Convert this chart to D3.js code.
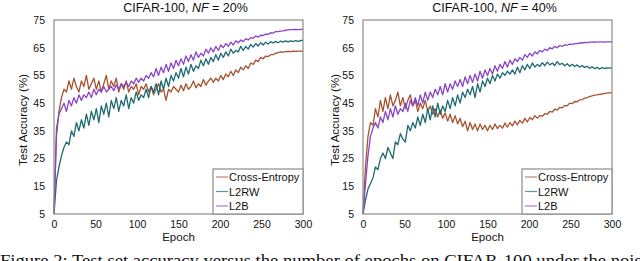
<!DOCTYPE html>
<html>
<head>
<meta charset="utf-8">
<script src="https://cdn.jsdelivr.net/npm/d3@7"></script>
<style>
  body { margin: 0; background: #fff; }
  svg { display: block; font-family: "Liberation Sans", Arial, sans-serif; }
</style>
</head>
<body>
<svg></svg>
<script>
// epochs sampled every 3
let epochs = [
  0, 3, 6, 9, 12, 15, 18, 21, 24, 27,
  30, 33, 36, 39, 42, 45, 48, 51, 54, 57,
  60, 63, 66, 69, 72, 75, 78, 81, 84, 87,
  90, 93, 96, 99, 102, 105, 108, 111, 114, 117,
  120, 123, 126, 129, 132, 135, 138, 141, 144, 147,
  150, 153, 156, 159, 162, 165, 168, 171, 174, 177,
  180, 183, 186, 189, 192, 195, 198, 201, 204, 207,
  210, 213, 216, 219, 222, 225, 228, 231, 234, 237,
  240, 243, 246, 249, 252, 255, 258, 261, 264, 267,
  270, 273, 276, 279, 282, 285, 288, 291, 294, 297,
  300
];

// NF = 20%
let ce20 = [
  6, 33, 42, 47, 50, 49, 53, 50, 54, 51,
  49, 53, 51, 55, 50, 52, 54, 50, 53, 49,
  52, 55, 50, 53, 51, 54, 49, 52, 50, 53,
  49, 51, 50, 52, 48, 51, 50, 52, 49, 51,
  48, 50, 52, 49, 50, 46, 50, 49, 51, 50,
  49, 51.5, 49.5, 52, 50, 51, 53, 50.5, 52, 51,
  53.5, 51.5, 53, 54, 52.5, 54, 53, 55, 53.5, 55.5,
  54.5, 56.5, 55, 57, 56, 58, 57, 58.5, 57.5, 59.5,
  59, 60.5, 60, 61.5, 61, 62, 61.8, 62.5, 62.5, 63,
  63.2, 63.5, 63.4, 63.6, 63.7, 63.6, 63.8, 63.7, 63.8, 63.8,
  63.7
];
let rw20 = [
  5, 17, 22, 26, 29, 31, 30, 35, 33, 38,
  35, 39, 36, 41, 37, 42, 39, 43, 38, 44,
  41, 45, 40, 46, 43, 47, 42, 46, 44, 48,
  43, 47, 45, 49, 46, 48, 47, 50, 47, 51,
  49, 52, 48, 53, 50, 54, 51, 55, 53, 56,
  54, 57.5, 54.5, 58, 55.5, 59, 56.5, 58.5, 57.5, 60.5,
  58.5, 61, 59, 61.5, 60, 62.5, 60.5, 63, 61.5, 63.5,
  62, 64.5, 63, 64, 63.5, 65.5, 64, 65.5, 64.5, 66.2,
  65.2, 66.5, 65.6, 66.8, 66, 67, 66.3, 67.2, 66.7, 67.3,
  66.8, 67.4, 67, 67.5, 67.1, 67.5, 67.2, 67.6, 67.3, 67.6,
  67.6
];
let b20 = [
  5, 36, 41, 43, 45, 42, 46, 44, 47, 45,
  48, 46, 48, 47, 49, 47, 50, 48, 50, 49,
  51, 49, 50, 51, 49.5, 51.5, 50, 52, 51, 52.5,
  51, 53, 52, 54, 52.5, 54, 53, 55, 54, 56,
  54.5, 57.5, 55, 58, 56, 59, 56.5, 59.5, 57.5, 60.5,
  58.5, 61, 59, 62, 60, 62.5, 60.5, 63.5, 61.5, 63,
  62, 64.5, 63, 65, 63.5, 65.5, 64, 66, 65, 66.5,
  65.5, 67, 66, 67.5, 66.8, 67.8, 67.2, 68.3, 67.8, 68.6,
  68.4, 69.2, 68.8, 69.5, 69.4, 69.9, 69.8, 70.4, 70.3, 70.8,
  70.8, 71, 71.1, 71.3, 71.4, 71.5, 71.5, 71.6, 71.5, 71.6,
  71.6
];

// NF = 40%
let ce40 = [
  5, 22, 33, 38, 37, 43, 40, 46, 42, 47,
  43, 48, 44, 46, 49, 44, 47, 43, 46, 48,
  44, 46, 42, 45, 43, 46, 42, 44, 41, 43,
  40, 42.5, 39.5, 41.5, 38.5, 41, 38, 40.5, 37.5, 39.5,
  36.5, 38.5, 35, 38, 35.5, 37.5, 35, 37.5, 35.5, 37,
  35, 37, 35.5, 37.5, 35.8, 37, 36, 37.8, 36.3, 38,
  36.8, 38.5, 37.2, 38.8, 37.8, 39.5, 38.2, 39.8, 39, 40.5,
  39.6, 40.5, 40.3, 41.2, 41, 42, 41.8, 42.8, 42.5, 43.5,
  43.3, 44.2, 44, 45, 44.8, 45.6, 45.5, 46.2, 46.3, 46.8,
  47, 47.4, 47.6, 47.9, 48, 48.2, 48.3, 48.5, 48.6, 48.7,
  48.7
];
let rw40 = [
  5, 10, 14, 16, 18, 22, 21, 25, 27, 25,
  29, 27, 25, 31, 30, 34, 32, 31, 37, 35,
  38, 36, 40, 37, 41, 38, 43, 39, 44, 40,
  45, 41, 44, 42, 46, 43, 47, 44, 48, 45,
  49, 47, 50, 48, 51, 47, 52, 49, 53, 51,
  54, 52, 55, 53, 55.5, 54, 56, 55, 56.5, 55.5,
  57, 55.5, 58, 56, 58.5, 57, 59, 57.5, 59.5, 58,
  59, 58.2, 59.6, 58.5, 59.8, 58.8, 59.5, 58.6, 60, 58.9,
  59.4, 58.5, 59.2, 58.3, 59, 58.2, 58.8, 58, 58.6, 57.9,
  58.3, 57.6, 58.1, 57.4, 57.9, 57.3, 57.8, 57.5, 57.7, 57.6,
  57.8
];
let b40 = [
  5, 16, 26, 33, 36, 38, 36, 40, 38, 42,
  39, 43, 40, 44, 41, 43, 42, 45, 42, 46,
  44, 47, 44, 48, 45, 49, 46, 49, 47, 50,
  48, 51, 48, 52, 49, 52, 50, 53, 51, 53.5,
  51, 54.5, 52, 55, 52.5, 55.5, 53, 56.5, 54, 57,
  55, 57.5, 55.5, 58.5, 56.5, 59, 57.5, 60, 58, 60.5,
  59, 61, 60, 61.5, 60.5, 62.5, 61.5, 63, 62, 63.5,
  62.8, 64, 63.5, 64.5, 64, 65, 64.6, 65.5, 65, 65.8,
  65.5, 66, 65.9, 66.3, 66.2, 66.5, 66.5, 66.7, 66.7, 66.9,
  66.8, 67, 67, 67.1, 67, 67.1, 67.1, 67, 67.1, 67.1,
  67.1
];

const seriesNames = ["Cross-Entropy", "L2RW", "L2B"];
const seriesColors = ["#a5532f", "#1d6b70", "#8a44c8"];
const xTicks = [0, 50, 100, 150, 200, 250, 300];
const yTicks = [5, 15, 25, 35, 45, 55, 65, 75];
const noiseLevels = ["20%", "40%"];

const svgWidth = 640;
const svgHeight = 261;
const plotTop = 20;
const plotBottom = 214;
const plotW = 249;

const svg = d3
  .select("svg")
  .attr("width", svgWidth)
  .attr("height", svgHeight);

const panels = [
  { x0: 54, nf: noiseLevels[0], data: [ce20, rw20, b20], ylabX: 27 },
  { x0: 363, nf: noiseLevels[1], data: [ce40, rw40, b40], ylabX: 339 }
];

panels.forEach(p => {
  const xScale = d3.scaleLinear().domain([0, 300]).range([p.x0, p.x0 + plotW]);
  const yScale = d3.scaleLinear().domain([5, 75]).range([plotBottom, plotTop]);

  const y_axis = d3.axisLeft(yScale).tickValues(yTicks).tickSize(0).tickPadding(9);
  const x_axis = d3.axisBottom(xScale).tickValues(xTicks).tickSize(0).tickPadding(7);

  const gy = svg.append("g")
    .attr("transform", "translate(" + p.x0 + ",0)")
    .call(y_axis);
  const gx = svg.append("g")
    .attr("transform", "translate(0," + plotBottom + ")")
    .call(x_axis);
  [gx, gy].forEach(g => {
    g.select(".domain").remove();
    g.attr("font-family", null).attr("font-size", null);
    g.selectAll("text").style("font-size", "10.5px").attr("fill", "#111");
  });

  const line = d3.line()
    .x((d, i) => xScale(epochs[i]))
    .y(d => yScale(d));

  p.data.forEach((vals, k) => {
    svg.append("path")
      .datum(vals)
      .attr("d", line)
      .attr("fill", "none")
      .attr("stroke", seriesColors[k])
      .attr("stroke-width", 1.3)
      .attr("stroke-linejoin", "round");
  });

  // frame
  svg.append("rect")
    .attr("x", p.x0)
    .attr("y", plotTop)
    .attr("width", plotW)
    .attr("height", plotBottom - plotTop)
    .attr("fill", "none")
    .attr("stroke", "#8c8c8c")
    .attr("stroke-width", 1.2);

  // title
  const title = svg.append("text")
    .attr("x", p.x0 + plotW / 2 + 7)
    .attr("y", 12)
    .attr("text-anchor", "middle")
    .style("font-size", "12.5px")
    .attr("fill", "#111");
  title.append("tspan").text("CIFAR-100, ");
  title.append("tspan").style("font-style", "italic").text("NF");
  title.append("tspan").text(" = " + p.nf);

  svg.append("text")
    .attr("x", p.x0 + plotW / 2)
    .attr("y", 241)
    .attr("text-anchor", "middle")
    .style("font-size", "11.5px")
    .attr("fill", "#111")
    .text("Epoch");

  svg.append("text")
    .attr("transform", "translate(" + p.ylabX + ",120) rotate(-90)")
    .attr("text-anchor", "middle")
    .style("font-size", "11.5px")
    .attr("fill", "#111")
    .text("Test Accuracy (%)");

  // legend
  const lx = p.x0 + plotW - 90;
  svg.append("rect")
    .attr("x", lx)
    .attr("y", 169)
    .attr("width", 90)
    .attr("height", plotBottom - 169)
    .attr("fill", "#fff")
    .attr("stroke", "#8c8c8c")
    .attr("stroke-width", 1.2);
  seriesNames.forEach((name, k) => {
    const by = 181 + k * 14.5;
    svg.append("line")
      .attr("x1", lx + 3)
      .attr("x2", lx + 15)
      .attr("y1", by - 4)
      .attr("y2", by - 4)
      .attr("stroke", seriesColors[k])
      .attr("stroke-opacity", 0.7)
      .attr("stroke-width", 1.2);
    svg.append("text")
      .attr("x", lx + 16)
      .attr("y", by)
      .style("font-size", "11px")
      .attr("fill", "#111")
      .text(name);
  });
});

// caption, cut off by the bottom edge as in the source figure
svg.append("text")
  .attr("x", 0)
  .attr("y", 266)
  .attr("textLength", 650)
  .attr("lengthAdjust", "spacingAndGlyphs")
  .style("font-family", "'Liberation Serif', 'DejaVu Serif', serif")
  .style("font-size", "16px")
  .attr("fill", "#111")
  .text("Figure 2: Test set accuracy versus the number of epochs on CIFAR-100 under the noise");
</script>
</body>
</html>
